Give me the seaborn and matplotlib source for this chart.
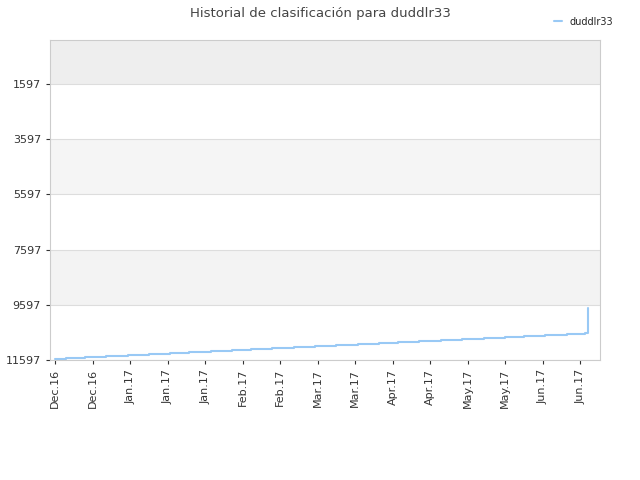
import matplotlib
matplotlib.use("Agg")
import matplotlib.pyplot as plt
import matplotlib.dates as mdates
import seaborn as sns
import pandas as pd

dates = ["2016-12-05","2016-12-09","2016-12-16","2016-12-24","2017-01-01","2017-01-09","2017-01-17",
         "2017-01-24","2017-02-01","2017-02-09","2017-02-16","2017-02-24","2017-03-04","2017-03-12",
         "2017-03-20","2017-03-28","2017-04-05","2017-04-12","2017-04-20","2017-04-28","2017-05-06",
         "2017-05-14","2017-05-22","2017-05-29","2017-06-06","2017-06-14","2017-06-21","2017-06-22"]
ranks = [11561,11525,11489,11452,11416,11380,11343,11307,11271,11234,11198,11162,11125,11089,
         11053,11016,10980,10944,10907,10871,10835,10798,10762,10725,10689,10653,10627,9694]
tick_dates = ["2016-12-05","2016-12-19","2017-01-02","2017-01-16","2017-01-30","2017-02-13","2017-02-27",
              "2017-03-13","2017-03-27","2017-04-10","2017-04-24","2017-05-08","2017-05-22","2017-06-05","2017-06-19"]
yticks = [1597, 3597, 5597, 7597, 9597, 11597]

df = pd.DataFrame({"date": pd.to_datetime(dates), "rank": ranks})
sns.set_style("white")
fig = plt.figure(figsize=(6.4, 4.8), dpi=100)
ax = fig.add_axes([50/640, 1-360/480, 550/640, 320/480])
sns.lineplot(data=df, x="date", y="rank", drawstyle="steps-post", color="#99c9f5", lw=1.5,
             ax=ax, label="duddlr33")
ax.set_ylim(11597, -3)
ax.set_xlim(pd.Timestamp("2016-12-03"), pd.Timestamp("2017-06-26 10:00"))
bands = [(-3, 1597, "#eeeeee"), (3597, 5597, "#f5f5f5"), (7597, 9597, "#f3f3f3")]
for a, b, c in bands:
    ax.axhspan(a, b, color=c, zorder=0, lw=0)
ax.set_yticks(yticks)
ax.set_yticklabels([str(v) for v in yticks])
ax.yaxis.grid(True, color="#dddddd", lw=0.8)
ax.set_xticks(pd.to_datetime(tick_dates))
ax.xaxis.set_major_formatter(mdates.DateFormatter("%b.%y"))
plt.setp(ax.get_xticklabels(), rotation=90)
ax.tick_params(labelsize=8, colors="#333333", length=3)
ax.tick_params(axis="x", bottom=True)
ax.tick_params(axis="y", left=True)
for s in ax.spines.values():
    s.set_color("#cccccc")
ax.set_xlabel(""); ax.set_ylabel("")
ax.legend(loc="upper right", bbox_to_anchor=(1.04, 1.1), frameon=False, fontsize=7, handlelength=0.8)
fig.suptitle("Historial de clasificación para duddlr33", fontsize=9.5, color="#444444", y=0.985)
fig.savefig("out.png", dpi=100)
